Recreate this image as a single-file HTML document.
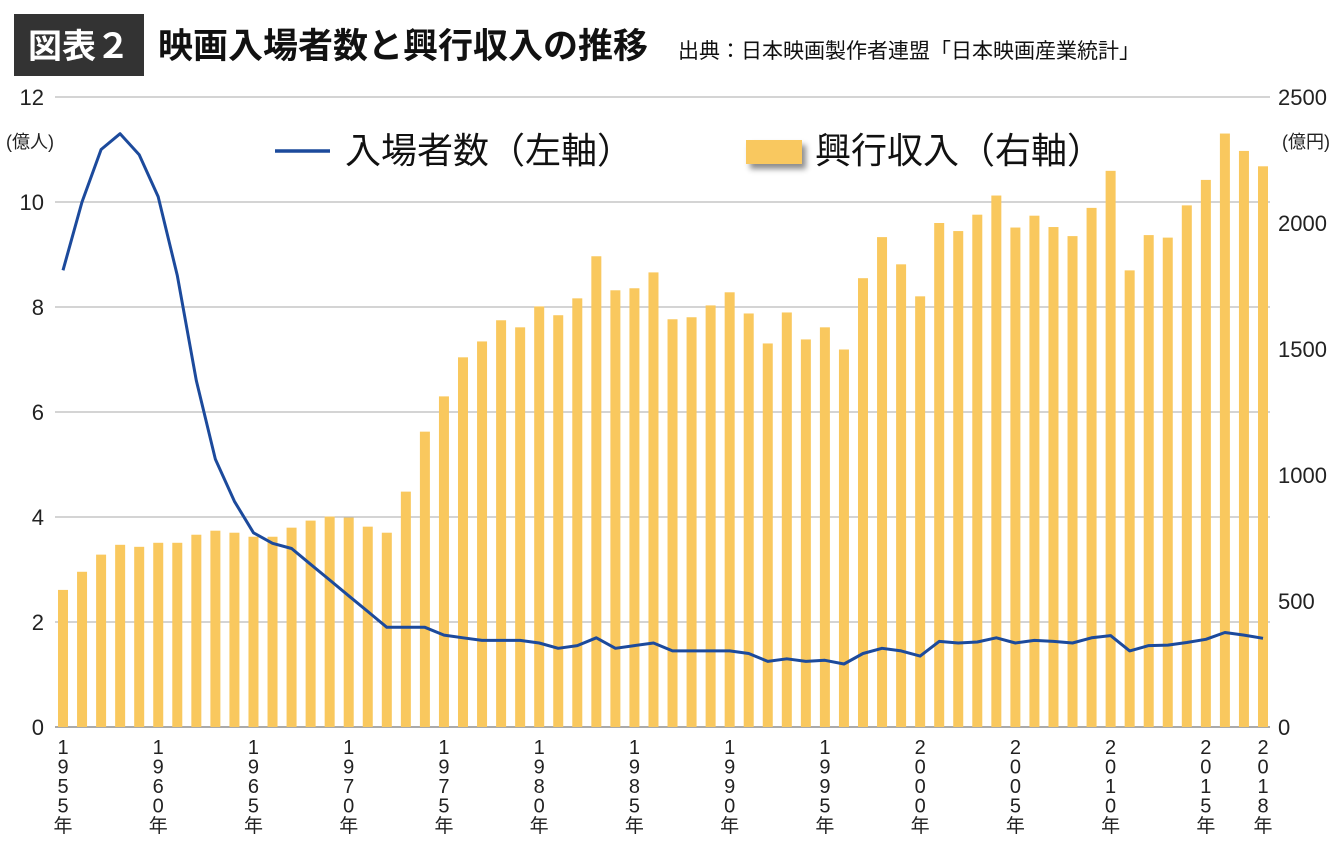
<!DOCTYPE html>
<html><head><meta charset="utf-8">
<style>
body{margin:0;background:#fff;width:1340px;height:843px;overflow:hidden;font-family:"Liberation Sans","Noto Sans CJK JP",sans-serif;}
svg{display:block}
</style></head>
<body>
<svg id="chart" width="1340" height="843" xmlns="http://www.w3.org/2000/svg" font-family="'Liberation Sans','Noto Sans CJK JP',sans-serif">
<defs><filter id="sh" x="-30%" y="-30%" width="180%" height="200%"><feDropShadow dx="4" dy="5" stdDeviation="3" flood-color="#000" flood-opacity="0.45"/></filter></defs>
<rect x="14" y="14" width="130" height="62" fill="#333"/>
<text x="79" y="58" text-anchor="middle" fill="#fff" font-size="34" font-weight="bold">図表２</text>
<text x="158" y="58" font-size="35" font-weight="bold" fill="#111">映画入場者数と興行収入の推移</text>
<text x="678" y="58" font-size="21" fill="#111">出典：日本映画製作者連盟「日本映画産業統計」</text>
<g id="grid"></g><g id="bars"></g><g id="line"></g><g id="axes"></g>
<g>
<line x1="275" y1="151" x2="330" y2="151" stroke="#1c4a9c" stroke-width="3.5"/>
<text x="345" y="163" font-size="36" fill="#111">入場者数（左軸）</text>
<rect x="746" y="140" width="56" height="24" fill="#f9c85e" filter="url(#sh)"/>
<text x="815" y="163" font-size="36" fill="#111">興行収入（右軸）</text>
</g>
<text x="6" y="148" font-size="18" fill="#222">(億人)</text>
<text x="1282" y="148" font-size="18" fill="#222">(億円)</text>
</svg>
<script>
const years=[];for(let y=1955;y<=2018;y++)years.push(y);
const revenue=[544,616,684,723,715,731,731,763,779,771,755,755,791,819,835,831,795,771,934,1172,1312,1467,1530,1614,1586,1669,1634,1701,1868,1733,1741,1804,1618,1626,1673,1725,1641,1522,1645,1538,1586,1498,1781,1944,1836,1709,2000,1968,2033,2109,1982,2029,1984,1948,2060,2207,1812,1952,1942,2070,2171,2355,2286,2225];
const attendance=[8.7,10.0,11.0,11.3,10.9,10.1,8.6,6.6,5.1,4.3,3.7,3.5,3.4,3.1,2.8,2.5,2.2,1.9,1.9,1.9,1.75,1.7,1.65,1.65,1.65,1.6,1.5,1.55,1.7,1.5,1.55,1.6,1.45,1.45,1.45,1.45,1.4,1.25,1.3,1.25,1.27,1.2,1.4,1.5,1.45,1.35,1.63,1.6,1.62,1.7,1.6,1.65,1.63,1.6,1.7,1.74,1.45,1.55,1.56,1.61,1.67,1.8,1.75,1.69];
const leftTicks=[0,2,4,6,8,10,12];
const rightTicks=[0,500,1000,1500,2000,2500];
const xLabelYears=[1955,1960,1965,1970,1975,1980,1985,1990,1995,2000,2005,2010,2015,2018];
const NS="http://www.w3.org/2000/svg";
const yTop=97,yBot=727,x0=63,x1=1263;
const xs=y=>x0+(y-1955)*(x1-x0)/63;
const yl=v=>yBot-v/12*(yBot-yTop);
const yr=v=>yBot-v/2500*(yBot-yTop);
function mk(t,a,p){const e=document.createElementNS(NS,t);for(const k in a)e.setAttribute(k,a[k]);p.appendChild(e);return e;}
const G=document.getElementById('grid'),B=document.getElementById('bars'),L=document.getElementById('line'),A=document.getElementById('axes');
leftTicks.forEach(v=>{
 const g=mk('line',{x1:55,x2:1270,y1:yl(v),y2:yl(v),stroke:v===0?'#555':'#aaa','stroke-width':1},G);
 
 
 const t=mk('text',{x:44,y:yl(v)+8,'text-anchor':'end','font-size':22,fill:'#222'},A);t.textContent=v;
 
 
});
rightTicks.forEach(v=>{
 const t=mk('text',{x:1278,y:yr(v)+8,'font-size':22,fill:'#222'},A);t.textContent=v;
 
 
});
years.forEach((y,i)=>{
 const b=mk('rect',{x:xs(y)-5,y:yr(revenue[i]),width:10,height:yBot-yr(revenue[i]),fill:'#f9c85e'},B);
 
 
});
const pts=years.map((y,i)=>xs(y).toFixed(1)+','+yl(attendance[i]).toFixed(1)).join(' ');
const pl=mk('polyline',{points:pts,fill:'none',stroke:'#1c4a9c','stroke-width':3,'stroke-linejoin':'round'},L);


xLabelYears.forEach(y=>{
 const chars=String(y).split('').concat(['年']);
 chars.forEach((c,j)=>{
  const t=mk('text',{x:xs(y),y:754+j*19.5,'text-anchor':'middle','font-size':j===4?19:20,fill:'#222'},A);t.textContent=c;
  
  
 });
});
</script>
</body></html>
